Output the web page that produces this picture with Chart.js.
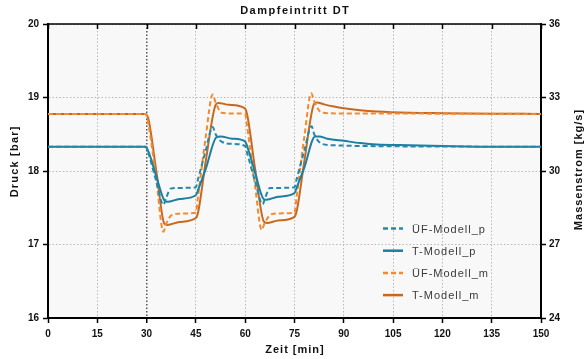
<!DOCTYPE html>
<html><head><meta charset="utf-8">
<script src="https://cdn.jsdelivr.net/npm/chart.js@4.4.1/dist/chart.umd.min.js"></script>
<style>html,body{margin:0;padding:0;background:#fff;}canvas{display:block;}</style>
</head><body>
<canvas id="c" width="587" height="359"></canvas>
<script>
// ---- texts ----
const chartTitle = 'Dampfeintritt DT';
const xTitle = 'Zeit [min]';
const yLeftTitle = 'Druck [bar]';
const yRightTitle = 'Massenstrom [kg/s]';
const seriesNames = ['ÜF-Modell_p', 'T-Modell_p', 'ÜF-Modell_m', 'T-Modell_m'];

// ---- ticks ----
const xTicks = [0, 15, 30, 45, 60, 75, 90, 105, 120, 135, 150];
const pTicks = [16, 17, 18, 19, 20];
const mTicks = [24, 27, 30, 33, 36];

// ---- series: ÜF-Modell_p (Druck, bar) ----
const tUFp = [0, 29.8, 30.5, 33, 35.1, 36.0, 37.3, 40, 45.0, 45.6, 48, 50.1, 51.0, 52.8, 56, 60.0, 60.5, 63, 65.3, 66.2, 67.5, 70, 75.0, 75.6, 78, 80.2, 81.0, 83.3, 87, 95, 150];
const vUFp = [18.33, 18.33, 18.25, 17.85, 17.54, 17.64, 17.76, 17.77, 17.78, 17.88, 18.28, 18.60, 18.50, 18.40, 18.37, 18.34, 18.26, 17.86, 17.55, 17.65, 17.77, 17.77, 17.78, 17.88, 18.28, 18.61, 18.50, 18.37, 18.35, 18.34, 18.33];

// ---- series: T-Modell_p (Druck, bar) ----
const tTp = [0, 29.5, 30.5, 33, 35.4, 36.3, 40, 45.0, 45.8, 48, 51.3, 52.5, 56, 60.0, 60.8, 63, 65.6, 66.5, 70, 75.0, 75.8, 78, 81.3, 82.5, 85, 90, 95, 100, 110, 120, 135, 150];
const vTp = [18.33, 18.33, 18.27, 17.92, 17.60, 17.58, 17.62, 17.67, 17.76, 18.03, 18.46, 18.47, 18.44, 18.40, 18.31, 17.98, 17.62, 17.61, 17.65, 17.70, 17.79, 18.05, 18.47, 18.47, 18.44, 18.41, 18.38, 18.36, 18.35, 18.34, 18.33, 18.33];

// ---- series: ÜF-Modell_m (Massenstrom, kg/s) ----
const tUFm = [0, 29.8, 30.5, 33, 35.1, 36.0, 37.6, 40, 45.0, 45.6, 48, 50.1, 51.0, 52.8, 56, 60.0, 60.5, 63, 65.0, 66.0, 68.0, 70, 75.0, 75.6, 78, 80.1, 81.0, 83.3, 90, 150];
const vUFm = [32.33, 32.33, 31.95, 29.6, 27.52, 27.85, 28.2, 28.26, 28.3, 28.9, 31.4, 33.12, 32.8, 32.38, 32.35, 32.33, 31.9, 29.4, 27.6, 27.9, 28.24, 28.27, 28.3, 28.9, 31.4, 33.17, 32.85, 32.38, 32.35, 32.33];

// ---- series: T-Modell_m (Massenstrom, kg/s) ----
const tTm = [0, 29.5, 30.5, 33, 35.4, 36.3, 40, 45.0, 45.8, 48, 51.0, 51.8, 55, 59.8, 60.6, 63, 65.7, 66.6, 70, 75.0, 75.8, 78, 81.0, 81.8, 84, 87, 90, 95, 100, 110, 120, 135, 150];
const vTm = [32.33, 32.33, 32.15, 29.95, 27.85, 27.8, 27.92, 28.08, 28.4, 30.4, 32.7, 32.78, 32.7, 32.57, 32.3, 30.1, 27.93, 27.88, 27.98, 28.13, 28.45, 30.4, 32.75, 32.8, 32.72, 32.63, 32.56, 32.48, 32.43, 32.38, 32.36, 32.34, 32.33];

const FONT = "'Liberation Sans', Arial, sans-serif";
const pts = (ts, vs) => ts.map((t, i) => ({x: t, y: vs[i]}));

function spacedText(ctx, text, x, y, font, spacing, color, rot) {
  ctx.save();
  ctx.font = font;
  ctx.fillStyle = color;
  ctx.letterSpacing = spacing + 'px';
  ctx.textAlign = 'center';
  ctx.textBaseline = 'middle';
  ctx.translate(x, y);
  if (rot) ctx.rotate(rot);
  ctx.fillText(text, spacing / 2, 0);
  ctx.restore();
}

const deco = {
  id: 'deco',
  beforeDraw(chart) {
    const {ctx, chartArea: a} = chart;
    ctx.save();
    ctx.fillStyle = '#f8f8f8';
    ctx.fillRect(a.left, a.top, a.right - a.left, a.bottom - a.top);
    ctx.restore();
  },
  afterDraw(chart) {
    const {ctx, chartArea: a} = chart;
    const xs = chart.scales.x;
    ctx.save();
    ctx.strokeStyle = '#000';
    ctx.lineWidth = 1.5;
    ctx.beginPath();
    ctx.moveTo(a.left - 1, a.top);
    ctx.lineTo(a.right + 1, a.top);
    xTicks.forEach(v => {
      const px = Math.round(xs.getPixelForValue(v)) + 0.5;
      ctx.moveTo(px, a.top);
      ctx.lineTo(px, a.top + 5);
    });
    ctx.stroke();
    ctx.restore();

    const cx = (a.left + a.right) / 2;
    spacedText(ctx, chartTitle, cx, 11, 'bold 11px ' + FONT, 1.5, '#111');
    spacedText(ctx, xTitle, cx, 350, 'bold 11px ' + FONT, 1, '#111');
    spacedText(ctx, yLeftTitle, 15, 162, 'bold 11px ' + FONT, 1.2, '#111', -Math.PI / 2);
    spacedText(ctx, yRightTitle, 579, 170, 'bold 11px ' + FONT, 1, '#111', -Math.PI / 2);

    // legend
    chart.data.datasets.forEach((ds, i) => {
      const y = 228.5 + i * 22.2;
      ctx.save();
      ctx.strokeStyle = ds.borderColor;
      ctx.lineWidth = ds.borderWidth + 0.5;
      ctx.setLineDash(ds.borderDash || []);
      ctx.beginPath();
      ctx.moveTo(383, y);
      ctx.lineTo(403, y);
      ctx.stroke();
      ctx.restore();
      ctx.save();
      ctx.font = '11px ' + FONT;
      ctx.fillStyle = '#3a3a3a';
      ctx.letterSpacing = '1px';
      ctx.textAlign = 'left';
      ctx.textBaseline = 'middle';
      ctx.fillText(ds.label, 412, y + 1);
      ctx.restore();
    });
  }
};

const TEAL = '#1a7fa1';
const TEAL_D = '#2389a8';
const ORANGE = '#c8681f';
const ORANGE_D = '#f58a2c';

new Chart(document.getElementById('c'), {
  type: 'line',
  data: {
    datasets: [
      {label: seriesNames[0], data: pts(tUFp, vUFp), yAxisID: 'y', borderColor: TEAL_D, borderWidth: 2, borderDash: [5, 3]},
      {label: seriesNames[1], data: pts(tTp, vTp), yAxisID: 'y', borderColor: TEAL, borderWidth: 2},
      {label: seriesNames[2], data: pts(tUFm, vUFm), yAxisID: 'y1', borderColor: ORANGE_D, borderWidth: 2, borderDash: [5, 3]},
      {label: seriesNames[3], data: pts(tTm, vTm), yAxisID: 'y1', borderColor: ORANGE, borderWidth: 2}
    ]
  },
  options: {
    responsive: false,
    animation: false,
    events: [],
    layout: {padding: {top: 24, left: 0, right: 0, bottom: 0}},
    elements: {
      point: {radius: 0},
      line: {cubicInterpolationMode: 'monotone', fill: false, borderCapStyle: 'butt'}
    },
    plugins: {legend: {display: false}, title: {display: false}, tooltip: {enabled: false}},
    scales: {
      x: {
        type: 'linear', min: 0, max: 150,
        afterBuildTicks: s => { s.ticks = xTicks.map(v => ({value: v})); },
        afterFit: s => { s.height = 41; },
        grid: {
          color: c => (c.tick && c.tick.value === 30) ? '#555' : '#b8b8b8',
          lineWidth: c => (c.tick && c.tick.value === 30) ? 1.5 : 1,
          tickColor: '#000', tickWidth: 1.5, tickLength: 5
        },
        border: {display: true, color: '#000', width: 2, dash: [1.5, 2]},
        ticks: {font: {family: FONT, size: 10, weight: 'bold'}, color: '#111', padding: 5, maxRotation: 0, autoSkip: false}
      },
      y: {
        position: 'left', min: 16, max: 20,
        afterBuildTicks: s => { s.ticks = pTicks.map(v => ({value: v})); },
        afterFit: s => { s.width = 48; },
        grid: {color: '#b8b8b8', lineWidth: 1, tickColor: '#000', tickWidth: 1.5, tickLength: 5},
        border: {display: true, color: '#000', width: 2, dash: [1.5, 2]},
        ticks: {font: {family: FONT, size: 10, weight: 'bold'}, color: '#111', padding: 4}
      },
      y1: {
        position: 'right', min: 24, max: 36,
        afterBuildTicks: s => { s.ticks = mTicks.map(v => ({value: v})); },
        afterFit: s => { s.width = 46; },
        grid: {drawOnChartArea: false, tickColor: '#000', tickWidth: 1.5, tickLength: 5},
        border: {display: true, color: '#000', width: 2},
        ticks: {font: {family: FONT, size: 10, weight: 'bold'}, color: '#111', padding: 3}
      }
    }
  },
  plugins: [deco]
});
</script>
</body></html>
